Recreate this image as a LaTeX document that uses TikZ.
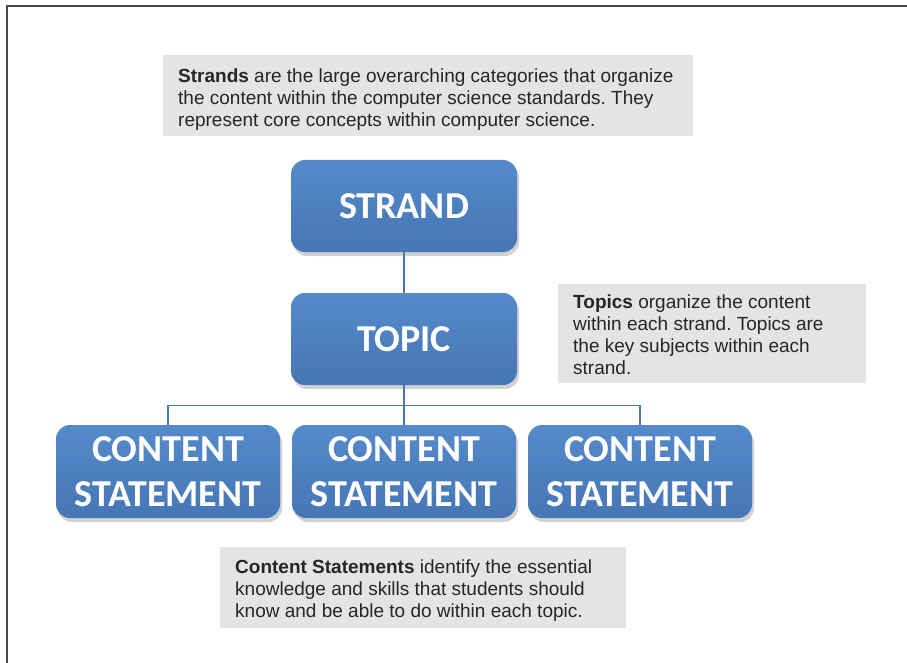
\documentclass[tikz,border=0pt]{standalone}
\usepackage{fontspec}
\setmainfont{Liberation Sans}
\newfontfamily\carlito{Carlito}
\usetikzlibrary{shadows}
\definecolor{officeblue}{HTML}{4577B6}
\definecolor{bluetop}{HTML}{558ACA}
\definecolor{bluebot}{HTML}{4676B5}
\definecolor{notegray}{HTML}{E4E4E4}
\definecolor{framegray}{HTML}{4A4A4A}
\frenchspacing
\tikzset{
  bluebox/.style={rounded corners=14pt, top color=bluetop, bottom color=bluebot,
    draw=none, minimum width=226pt, minimum height=92pt, inner sep=0pt,
    text=white, align=center, font=\carlito\bfseries\fontsize{38}{45}\selectfont,
    drop shadow={shadow xshift=2pt, shadow yshift=-4pt, opacity=0.3, fill=black!60}},
  notebox/.style={fill=notegray, draw=none, anchor=north west, inner sep=0pt},
  notetext/.style={anchor=north west, inner sep=0pt, align=left, text=black!85,
    font=\frenchspacing\fontsize{19}{22}\selectfont},
  conn/.style={draw=officeblue, line width=1.4pt}
}
\begin{document}
\begin{tikzpicture}[x=1pt,y=-1pt]
\useasboundingbox (0,0) rectangle (907,663);
\draw[line width=2pt, framegray] (7,663) -- (7,6) -- (907,6);

% note boxes
\node[notebox, minimum width=530pt, minimum height=81pt] (nstrand) at (163,55) {};
\node[notetext] (tstrand) at (178,68.5) {\textbf{Strands} are the large overarching categories that organize\\the content within the computer science standards. They\\represent core concepts within computer science.};

\node[notebox, minimum width=308pt, minimum height=99pt] (ntopic) at (558,284) {};
\node[notetext] (ttopic) at (573,295) {\textbf{Topics} organize the content\\within each strand. Topics are\\the key subjects within each\\strand.};

\node[notebox, minimum width=406pt, minimum height=81pt] (ncontent) at (220,547) {};
\node[notetext] (tcontent) at (235,560) {\textbf{Content Statements} identify the essential\\knowledge and skills that students should\\know and be able to do within each topic.};

% blue boxes
\node[bluebox] (strand) at (404,206) {STRAND};
\node[bluebox] (topic) at (404,339) {TOPIC};
\node[bluebox, minimum width=224pt, minimum height=93pt] (c1) at (168,471.5) {CONTENT\\STATEMENT};
\node[bluebox, minimum width=224pt, minimum height=93pt] (c2) at (404,471.5) {CONTENT\\STATEMENT};
\node[bluebox, minimum width=224pt, minimum height=93pt] (c3) at (640,471.5) {CONTENT\\STATEMENT};

% connectors
\draw[conn] (strand.south) -- (topic.north);
\draw[conn] (topic.south) -- ++(0,20) coordinate (bus);
\draw[conn] (c1.north) |- (bus) -| (c3.north);
\draw[conn] (bus) -- (c2.north);
\end{tikzpicture}
\end{document}
